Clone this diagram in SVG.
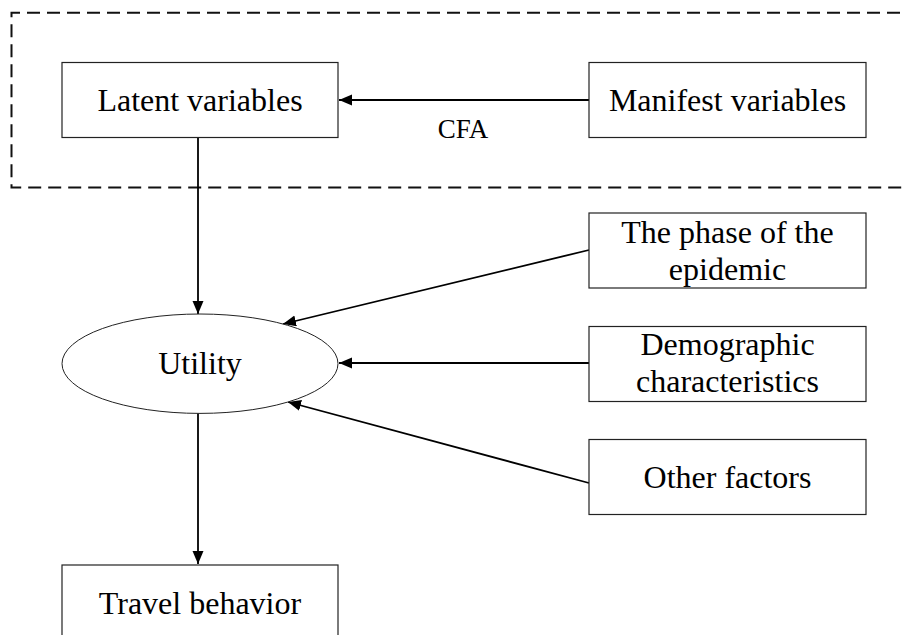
<svg xmlns="http://www.w3.org/2000/svg" width="906" height="635" viewBox="0 0 906 635">
<style>
.box{fill:#fff;stroke:#222;stroke-width:1.2}
.lbl{font-family:"Liberation Serif","Times New Roman",serif;font-size:32px;fill:#000;text-anchor:middle}
.cfa{font-family:"Liberation Serif","Times New Roman",serif;font-size:27px;fill:#000;text-anchor:middle}
.edge{fill:none;stroke:#000;stroke-width:1.8}
</style>
<defs>
<marker id="ah" markerUnits="userSpaceOnUse" markerWidth="14" markerHeight="12" refX="13" refY="5.5" orient="auto">
<path d="M0,0 L13,5.5 L0,11 z" fill="#000"/>
</marker>
</defs>
<rect width="906" height="635" fill="#fff"/>
<g id="group-box">
<path d="M920,12.7 H11.5 V187.5 H920" fill="none" stroke="#111" stroke-width="2" stroke-dasharray="13,7"/>
</g>
<g id="connectors">
<line class="edge" x1="589" y1="100" x2="339" y2="100" marker-end="url(#ah)"/>
<line class="edge" x1="198" y1="138" x2="198" y2="314" marker-end="url(#ah)"/>
<line class="edge" x1="589" y1="250" x2="283" y2="324" marker-end="url(#ah)"/>
<line class="edge" x1="589" y1="363" x2="339" y2="363" marker-end="url(#ah)"/>
<line class="edge" x1="589" y1="483" x2="288" y2="402" marker-end="url(#ah)"/>
<line class="edge" x1="198" y1="413" x2="198" y2="564" marker-end="url(#ah)"/>
<text class="cfa" x="463" y="138">CFA</text>
</g>
<g id="latent">
<rect class="box" x="62" y="62.5" width="276" height="75"/>
<text class="lbl" x="200" y="111">Latent variables</text>
</g>
<g id="manifest">
<rect class="box" x="589" y="62.5" width="277" height="75"/>
<text class="lbl" x="727.5" y="111">Manifest variables</text>
</g>
<g id="phase">
<rect class="box" x="589" y="213" width="277" height="75"/>
<text class="lbl" x="727.5" y="243">The phase of the</text>
<text class="lbl" x="727.5" y="280">epidemic</text>
</g>
<g id="demographic">
<rect class="box" x="589" y="326.5" width="277" height="75"/>
<text class="lbl" x="727.5" y="355">Demographic</text>
<text class="lbl" x="727.5" y="392">characteristics</text>
</g>
<g id="other">
<rect class="box" x="589" y="439.5" width="277" height="75"/>
<text class="lbl" x="727.5" y="488">Other factors</text>
</g>
<g id="utility">
<ellipse cx="200" cy="363.7" rx="138" ry="49.7" fill="#fff" stroke="#222" stroke-width="1"/>
<text class="lbl" x="200" y="374">Utility</text>
</g>
<g id="travel">
<rect class="box" x="62" y="565" width="276" height="90"/>
<text class="lbl" x="200" y="614">Travel behavior</text>
</g>
</svg>
